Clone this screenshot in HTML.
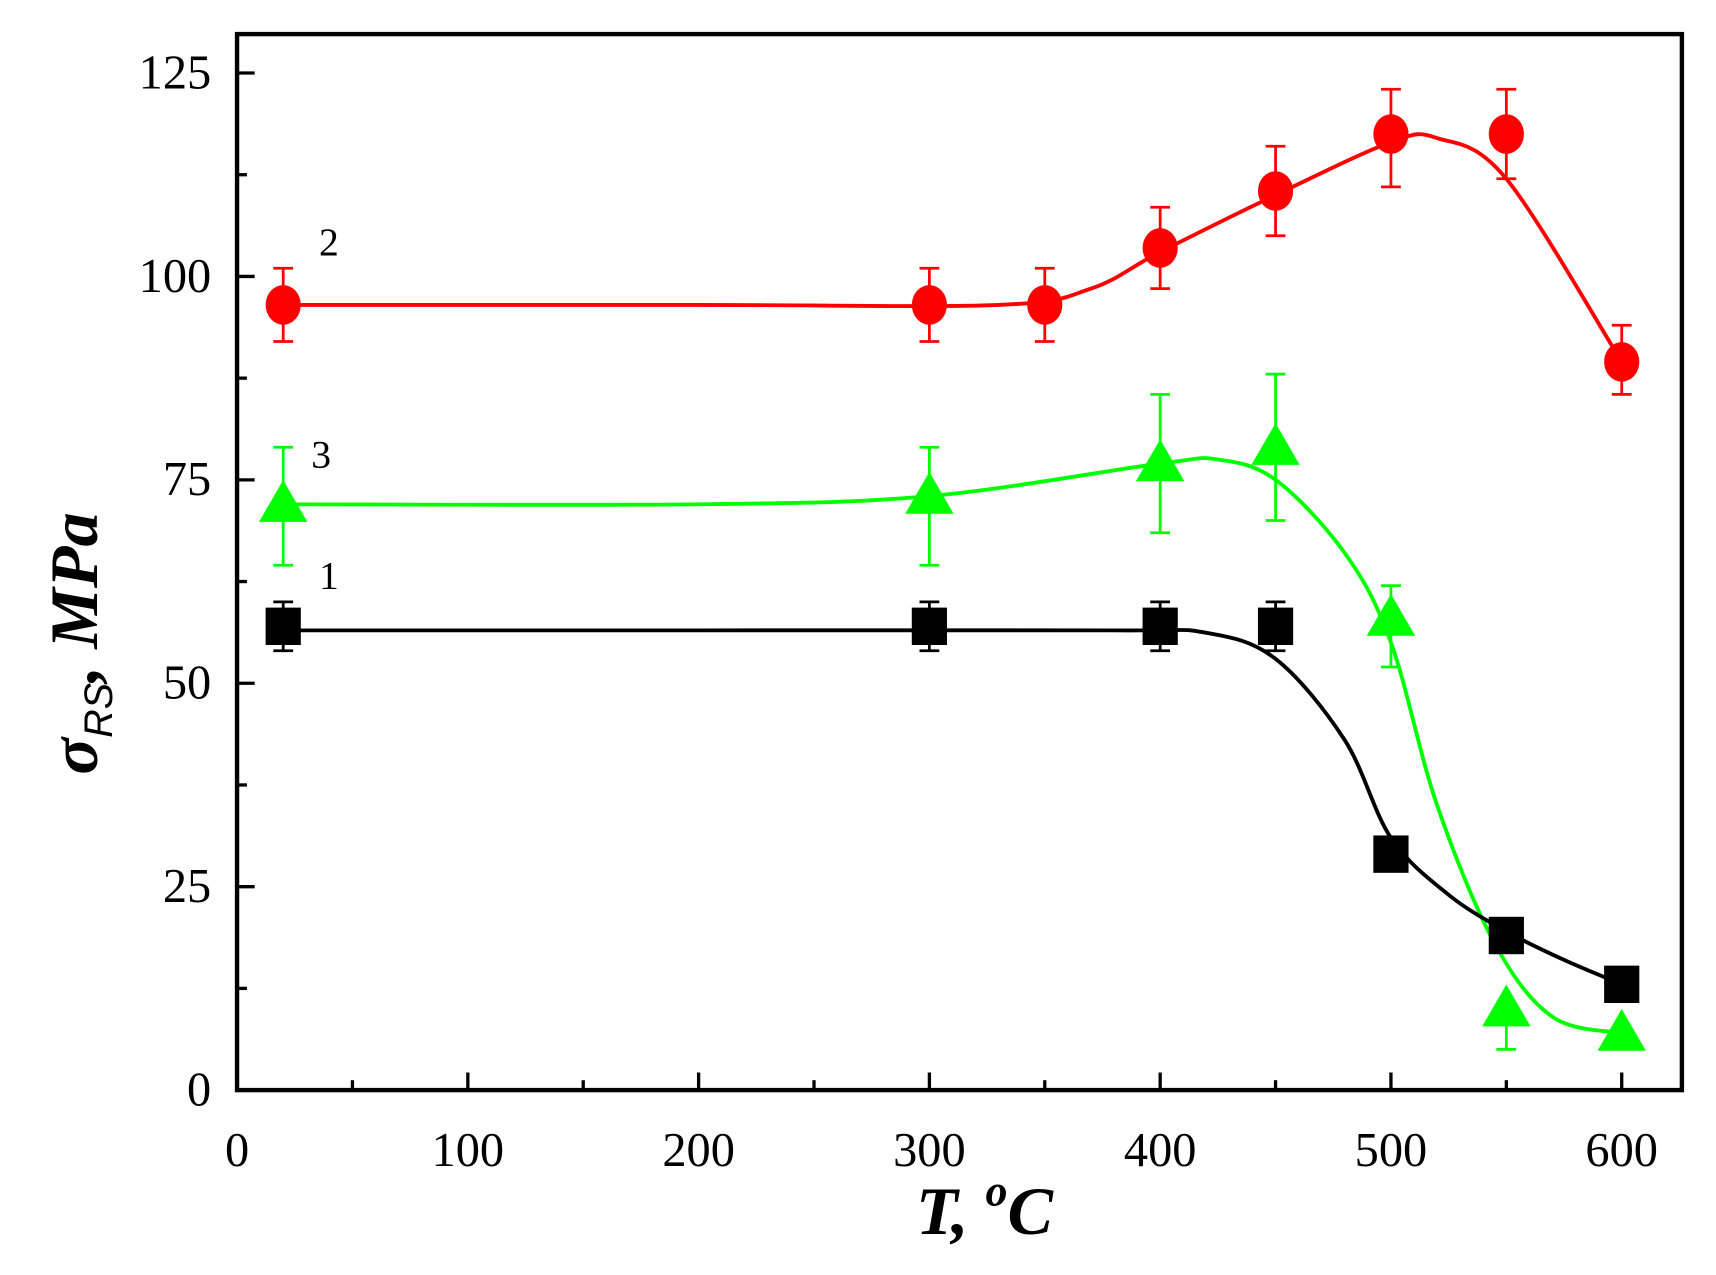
<!DOCTYPE html><html><head><style>html,body{margin:0;padding:0;background:#fff}svg{display:block}</style></head><body>
<svg id="s" width="1716" height="1275" viewBox="0 0 1560 1159.1" xmlns="http://www.w3.org/2000/svg" font-family="Liberation Serif, serif">
<rect x="215.5" y="31" width="1313.5" height="960" fill="none" stroke="#000" stroke-width="4"/>
<g id="ax" stroke="#000" stroke-width="3"></g>
<g id="lab" font-size="44" fill="#000"></g>
<g id="data"></g>
<text x="290" y="232" font-size="36">2</text>
<text x="283" y="425" font-size="36">3</text>
<text x="290" y="535" font-size="36">1</text>
<text x="895" y="1122" font-size="62" font-weight="bold" font-style="italic" text-anchor="middle">T, <tspan font-size="40" dy="-26">o</tspan><tspan dy="26">C</tspan></text>
<g transform="translate(88,585) rotate(-90)"><text x="0" y="0" font-size="62" font-weight="bold" font-style="italic" text-anchor="middle">σ<tspan font-size="36" dy="14" font-weight="normal" font-family="Liberation Sans, sans-serif">RS</tspan><tspan dy="-14">, MPa</tspan></text></g>
</svg>
<script>
var X=t=>215.5+t*2.098,Y=v=>991-v*7.397,ns="http://www.w3.org/2000/svg";
function el(p,n,a){var e=document.createElementNS(ns,n);for(var k in a)e.setAttribute(k,a[k]);p.appendChild(e);return e}
var ax=document.getElementById('ax'),lab=document.getElementById('lab'),d=document.getElementById('data');
for(var t=0;t<=600;t+=50){var M=t%100==0;el(ax,'line',{x1:X(t),x2:X(t),y1:991,y2:991-(M?16:9)});if(M){var e=el(lab,'text',{x:X(t),y:1060,'text-anchor':'middle'});e.textContent=t}}
for(var v=0;v<=125;v+=12.5){var M=v%25==0;el(ax,'line',{x1:215.5,x2:215.5+(M?16:9),y1:Y(v),y2:Y(v)});if(M){var e=el(lab,'text',{x:192,y:Y(v)+14,'text-anchor':'end'});e.textContent=v}}
function curve(pts,c){var P=pts.map(p=>[X(p[0]),Y(p[1])]),s="M"+P[0];for(var i=0;i<P.length-1;i++){var p0=P[i-1]||P[i],p1=P[i],p2=P[i+1],p3=P[i+2]||p2;s+=" C"+(p1[0]+(p2[0]-p0[0])/6)+","+(p1[1]+(p2[1]-p0[1])/6)+" "+(p2[0]-(p3[0]-p1[0])/6)+","+(p2[1]-(p3[1]-p1[1])/6)+" "+p2}el(d,'path',{d:s,fill:'none',stroke:c,'stroke-width':3.5})}
function err(t,lo,hi,c){var x=X(t);el(d,'path',{d:`M${x},${Y(lo)}V${Y(hi)}M${x-9},${Y(lo)}h18M${x-9},${Y(hi)}h18`,stroke:c,'stroke-width':2.5,fill:'none'})}
curve([[20,96.5],[200,96.5],[330,96.5],[370,98.5],[400,103],[450,110],[500,116.5],[520,117],[550,112],[600,89.5]],'#f00');
[[20,96.5,92,101],[300,96.5,92,101],[350,96.5,92,101],[400,103.5,98.5,108.5],[450,110.5,105,116],[500,117.5,111,123],[550,117.5,112,123],[600,89.5,85.5,94]].forEach(p=>{err(p[0],p[2],p[3],'#f00');el(d,'ellipse',{cx:X(p[0]),cy:Y(p[1]),rx:16,ry:18,fill:'#f00'})});
curve([[20,72],[200,72],[300,73],[400,77],[425,77.5],[450,75],[480,66],[500,55],[520,35],[545,18],[570,9],[600,7]],'#0f0');
[[20,72,64.5,79],[300,73,64.5,79],[400,77,68.5,85.5],[450,79,70,88],[500,58,52,62],[550,10,5,10],[600,7,6,7]].forEach(p=>{err(p[0],p[2],p[3],'#0f0');var x=X(p[0]),y=Y(p[1]);el(d,'polygon',{points:`${x},${y-22} ${x-22},${y+16} ${x+22},${y+16}`,fill:'#0f0'})});
curve([[20,56.5],[200,56.5],[380,56.5],[420,56.2],[450,53],[480,43],[500,31],[525,24],[550,19.5],[575,16],[600,13]],'#000');
[[20,57],[300,57],[400,57],[450,57],[500,29],[550,19],[600,13]].forEach(p=>{var x=X(p[0]),y=Y(p[1]);if(p[1]>50)err(p[0],54,60,'#000');el(d,'rect',{x:x-16,y:y-17,width:32,height:34,fill:'#000'})});
</script>
</body></html>
